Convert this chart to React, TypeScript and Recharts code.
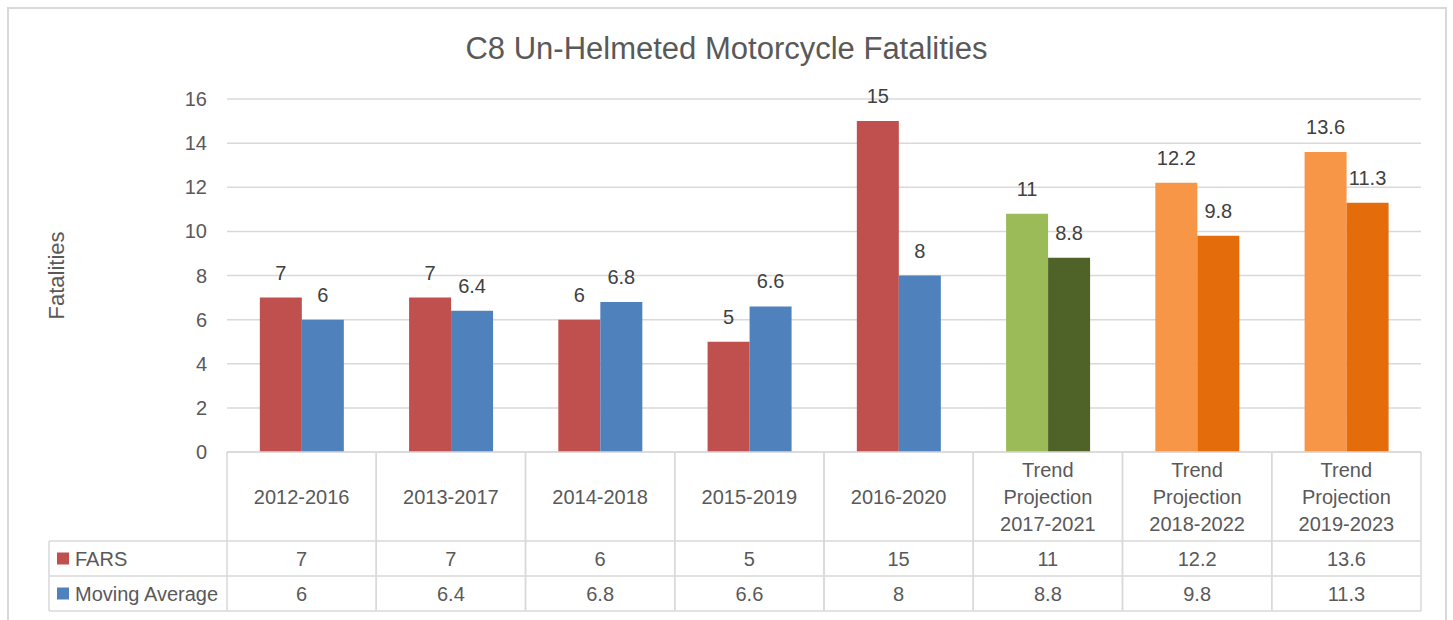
import React from "react";
import { BarChart, Bar, XAxis, YAxis, CartesianGrid, LabelList, Cell, Label } from "recharts";

// categories (\n = line break in the table header)
const categories = [
  "2012-2016",
  "2013-2017",
  "2014-2018",
  "2015-2019",
  "2016-2020",
  "Trend\nProjection\n2017-2021",
  "Trend\nProjection\n2018-2022",
  "Trend\nProjection\n2019-2023",
];

const farsValues = [7, 7, 6, 5, 15, 10.8, 12.2, 13.6];
const farsLabels = ["7", "7", "6", "5", "15", "11", "12.2", "13.6"];
const movingAvgValues = [6, 6.4, 6.8, 6.6, 8, 8.8, 9.8, 11.3];
const movingAvgLabels = ["6", "6.4", "6.8", "6.6", "8", "8.8", "9.8", "11.3"];

const farsColors = ["#C0504D", "#C0504D", "#C0504D", "#C0504D", "#C0504D", "#9BBB59", "#F79646", "#F79646"];
const movingAvgColors = ["#4F81BD", "#4F81BD", "#4F81BD", "#4F81BD", "#4F81BD", "#4F6228", "#E46C0A", "#E46C0A"];

const yTicks = [0, 2, 4, 6, 8, 10, 12, 14, 16];

const data = categories.map((c, i) => ({
  category: c,
  fars: farsValues[i],
  ma: movingAvgValues[i],
  farsLabel: farsLabels[i],
  maLabel: movingAvgLabels[i],
}));

const W = 1453;
const H = 620;
const FONT = "'Liberation Sans', Arial, sans-serif";
const TEXT = "#595959";
const LINE = "#d9d9d9";
const PLOT_LEFT = 227;
const PLOT_RIGHT = 1421;
const TABLE_LEFT = 49;
const HEAD_H = 89;
const ROW_H = 35;

function TableTick(props: any) {
  const { x, y, payload, index } = props;
  const band = (PLOT_RIGHT - PLOT_LEFT) / categories.length;
  const half = payload && payload.offset ? payload.offset : band / 2;
  const i = index;
  const top = y;
  const r1 = top + HEAD_H;
  const r2 = r1 + ROW_H;
  const r3 = r2 + ROW_H;
  const lines = String(payload.value).split("\n");
  const mid = top + HEAD_H / 2;
  const lh = 27;
  const ln = { stroke: LINE, strokeWidth: 1.5 };
  return (
    <g>
      <line x1={x - half} x2={x + half} y1={top} y2={top} {...ln} />
      <line x1={x - half} x2={x + half} y1={r1} y2={r1} {...ln} />
      <line x1={x - half} x2={x + half} y1={r2} y2={r2} {...ln} />
      <line x1={x - half} x2={x + half} y1={r3} y2={r3} {...ln} />
      <line x1={x - half} x2={x - half} y1={top} y2={r3} {...ln} />
      <line x1={x + half} x2={x + half} y1={top} y2={r3} {...ln} />
      {lines.map((t, k) => (
        <text
          key={k}
          x={x}
          y={mid + (k - (lines.length - 1) / 2) * lh}
          textAnchor="middle"
          dominantBaseline="central"
          fontSize={20}
          fill={TEXT}
        >
          {t}
        </text>
      ))}
      <text x={x} y={r1 + ROW_H / 2} textAnchor="middle" dominantBaseline="central" fontSize={20} fill={TEXT}>
        {farsLabels[i]}
      </text>
      <text x={x} y={r2 + ROW_H / 2} textAnchor="middle" dominantBaseline="central" fontSize={20} fill={TEXT}>
        {movingAvgLabels[i]}
      </text>
      {i === 0 && (
        <g>
          <line x1={TABLE_LEFT} x2={x - half} y1={r1} y2={r1} {...ln} />
          <line x1={TABLE_LEFT} x2={x - half} y1={r2} y2={r2} {...ln} />
          <line x1={TABLE_LEFT} x2={x - half} y1={r3} y2={r3} {...ln} />
          <line x1={TABLE_LEFT} x2={TABLE_LEFT} y1={r1} y2={r3} {...ln} />
          <rect x={TABLE_LEFT + 8} y={r1 + ROW_H / 2 - 6} width={12} height={12} fill={farsColors[0]} />
          <text x={TABLE_LEFT + 26} y={r1 + ROW_H / 2} dominantBaseline="central" fontSize={20} fill={TEXT}>
            FARS
          </text>
          <rect x={TABLE_LEFT + 8} y={r2 + ROW_H / 2 - 6} width={12} height={12} fill={movingAvgColors[0]} />
          <text x={TABLE_LEFT + 26} y={r2 + ROW_H / 2} dominantBaseline="central" fontSize={20} fill={TEXT}>
            Moving Average
          </text>
        </g>
      )}
    </g>
  );
}

const renderYLabel = (props: any) => {
  const vb = props.viewBox || { y: 99, height: 353 };
  const cx = 56;
  const cy = vb.y + vb.height / 2;
  return (
    <text
      x={cx}
      y={cy}
      transform={`rotate(-90 ${cx} ${cy})`}
      textAnchor="middle"
      dominantBaseline="central"
      fontSize={22}
      fill={TEXT}
    >
      Fatalities
    </text>
  );
};

export default function App() {
  return (
    <div style={{ position: "absolute", left: 0, top: 0, width: W, height: H, background: "#fff", fontFamily: FONT, overflow: "hidden" }}>
      <div
        style={{
          position: "absolute",
          left: 7,
          top: 7,
          width: 1436,
          height: 700,
          border: `2px solid ${LINE}`,
        }}
      />
      <div
        style={{
          position: "absolute",
          left: 0,
          top: 33,
          width: W,
          textAlign: "center",
          fontSize: 31,
          lineHeight: "31px",
          color: TEXT,
        }}
      >
        C8 Un-Helmeted Motorcycle Fatalities
      </div>
      <div style={{ position: "absolute", left: 0, top: 0 }}>
        <BarChart
          width={W}
          height={H}
          data={data}
          margin={{ top: 99, right: W - PLOT_RIGHT, bottom: 0, left: 0 }}
          barGap={0}
          barCategoryGap="22%"
        >
          <CartesianGrid vertical={false} stroke={LINE} strokeWidth={1.5} />
          <XAxis
            dataKey="category"
            height={168}
            axisLine={false}
            tickLine={false}
            tickSize={0}
            tickMargin={0}
            interval={0}
            tick={<TableTick />}
          />
          <YAxis
            width={PLOT_LEFT}
            domain={[0, 16]}
            ticks={yTicks}
            axisLine={false}
            tickLine={false}
            tickSize={0}
            tickMargin={20}
            tick={{ fontSize: 20, fill: TEXT }}
          >
            <Label content={renderYLabel} />
          </YAxis>
          <Bar dataKey="fars" isAnimationActive={false}>
            {data.map((d, i) => (
              <Cell key={"f" + i} fill={farsColors[i]} />
            ))}
            <LabelList dataKey="farsLabel" position="top" offset={18} fill="#404040" fontSize={20} />
          </Bar>
          <Bar dataKey="ma" isAnimationActive={false}>
            {data.map((d, i) => (
              <Cell key={"m" + i} fill={movingAvgColors[i]} />
            ))}
            <LabelList dataKey="maLabel" position="top" offset={18} fill="#404040" fontSize={20} />
          </Bar>
        </BarChart>
      </div>
    </div>
  );
}
